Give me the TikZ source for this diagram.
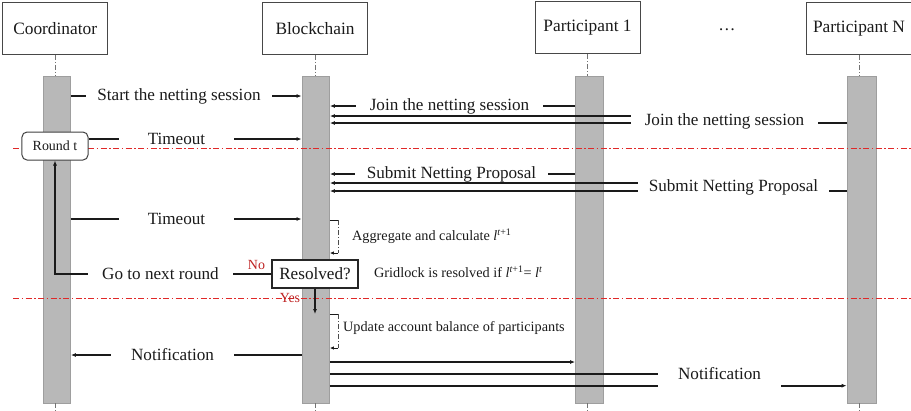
\documentclass[tikz,border=0pt]{standalone}
\usepackage{fontspec}
\setmainfont{Liberation Serif}
\usetikzlibrary{arrows.meta}
\definecolor{barfill}{HTML}{B8B8B8}
\definecolor{barline}{HTML}{9E9E9E}
\definecolor{sepred}{HTML}{E02828}
\definecolor{ink}{HTML}{1A1A1A}

\tikzset{
  head/.style={draw=black!72, line width=1bp, fill=white, minimum width=105bp,
    minimum height=52bp, inner sep=0pt, font=\fontsize{17.4}{20}\selectfont, text=ink},
  lifebar/.style={draw=barline, fill=barfill, line width=0.8bp, minimum width=27.5bp,
    minimum height=327bp, inner sep=0pt},
  stub/.style={draw=black!55, line width=0.8bp, dash pattern=on 5bp off 2bp on 1bp off 2bp},
  msg/.style={inner sep=0pt, font=\fontsize{17.2}{20}\selectfont, text=ink, minimum height=18bp},
  note/.style={inner sep=0pt, font=\fontsize{14.3}{17}\selectfont, text=ink, anchor=west},
  wire/.style={draw=ink, line width=1.3bp},
  fat/.style={draw=ink, line width=1.7bp},
  tip/.style={-{Latex[length=5bp,width=4bp]}},
  smalltip/.style={-{Latex[length=4bp,width=3.5bp]}},
  sep/.style={draw=sepred, line width=0.9bp, dash pattern=on 6bp off 2.5bp on 1.5bp off 2.5bp},
  loopline/.style={draw=ink, line width=0.9bp},
  loopdash/.style={draw=black!70, line width=0.8bp, dash pattern=on 5bp off 2bp on 1bp off 2bp},
  redtag/.style={text=sepred!85!black, font=\fontsize{14}{16}\selectfont, inner sep=0pt},
  boxq/.style={draw=black!85, fill=white, line width=1.1bp, inner sep=0pt},
}

\begin{document}
\begin{tikzpicture}[x=1bp, y=-1bp]
\useasboundingbox (0,0) rectangle (911,410);

% participants
\node[head] (hc)  at (55.2,28.3)  {\raisebox{-1.5bp}{Coordinator}};
\node[head] (hb)  at (315,28.3)   {\raisebox{-1.5bp}{Blockchain}};
\node[head] (hp1) at (587.5,27.5) {Participant 1};
\node[head] (hpn) at (859,28.5)   {Participant N};
\node[msg] (dots) at (727,30) {…};

% activation bars
\node[lifebar] (cc)  at (56.75,239.5) {};
\node[lifebar] (cb)  at (315.75,239.5) {};
\node[lifebar] (cp1) at (589.25,239.5) {};
\node[lifebar, minimum width=29.5bp] (cpn) at (861.75,239.5) {};

% lifeline stubs
\foreach \h/\b in {hc/cc, hb/cb, hp1/cp1, hpn/cpn} {
  \draw[stub] (\h.south) -- (\h.south |- \b.north);
  \draw[stub] (\h.south |- \b.south) -- ++(0,8);
}

% round separators
\coordinate (sepA) at (13,148);
\coordinate (sepB) at (13,298);
\draw[sep] (sepA) -- (911,148);
\draw[sep] (sepB) -- (911,298);

% round marker
\node[draw=black!75, fill=white, line width=1bp, rounded corners=5bp, minimum width=66bp,
  minimum height=28bp, inner sep=0pt, font=\fontsize{14}{16}\selectfont, text=ink] (rt) at (55,146) {Round t};

% start of session
\node[msg, minimum width=186bp] (m1) at (179,96) {Start the netting session};
\draw[wire] (cc.east |- m1) -- (m1.west);
\draw[wire, tip] (m1.east) -- (cb.west |- m1);

% participants join
\node[msg, minimum width=187bp] (m2) at (449.5,106) {Join the netting session};
\draw[wire] (cp1.west |- m2) -- (m2.east);
\draw[wire, tip] (m2.west) -- (cb.east |- m2);

\node[msg, minimum width=187bp] (m3) at (724.5,121) {Join the netting session};
\coordinate (j3a) at ([yshift=5bp]m3.west);
\coordinate (j3b) at ([yshift=-2bp]m3.west);
\draw[fat, tip] (j3a) -- (cb.east |- j3a);
\draw[fat, tip] (j3b) -- (cb.east |- j3b);
\draw[wire] (cpn.west |- j3b) -- (m3.east |- j3b);

% first timeout
\node[msg, minimum width=115bp] (t1) at (176.5,139) {Timeout};
\draw[wire] (rt.east |- t1) -- (t1.west);
\draw[wire, tip] (t1.east) -- (cb.west |- t1);

% proposals
\node[msg, minimum width=193bp] (s1) at (451.5,174) {Submit Netting Proposal};
\draw[wire] (cp1.west |- s1) -- (s1.east);
\draw[wire, tip] (s1.west) -- (cb.east |- s1);

\node[msg, minimum width=191bp] (s2) at (733.5,187) {Submit Netting Proposal};
\coordinate (s2a) at ([yshift=4bp]s2.west);
\coordinate (s2b) at ([yshift=-4bp]s2.west);
\draw[fat, tip] (s2a) -- (cb.east |- s2a);
\draw[fat, tip] (s2b) -- (cb.east |- s2b);
\draw[wire] (cpn.west |- s2b) -- (s2.east |- s2b);

% second timeout
\node[msg, minimum width=115bp] (t2) at (176.5,219) {Timeout};
\draw[wire] (cc.east |- t2) -- (t2.west);
\draw[wire, tip] (t2.east) -- (cb.west |- t2);

% aggregation
\coordinate (l1top) at (338,220);
\coordinate (l1bot) at (338,253);
\draw[loopline] (cb.east |- l1top) -- (l1top);
\draw[loopdash] (l1top) -- (l1bot);
\draw[loopline, smalltip] (l1bot) -- (cb.east |- l1bot);
\node[note] (agg) at (352,236) {Aggregate and calculate \textit{l}\textsuperscript{\textit{t}+1}};

% decision
\node[boxq, minimum width=86bp, minimum height=28bp, font=\fontsize{17.2}{20}\selectfont, text=ink] (res) at (315,274) {Resolved?};
\node[note] (grid) at (374,272) {Gridlock is resolved if \textit{l}\textsuperscript{\textit{t}+1}= \textit{l}\textsuperscript{\textit{t}}};
\node[redtag] (no)  at (256.5,265) {No};
\node[redtag] (yes) at (290,298)   {Yes};

\node[msg, minimum width=145bp] (gn) at (160.5,274) {Go to next round};
\draw[wire] (res.west) -- (gn.east);
\draw[wire, tip] (gn.west) -| (rt.south);

% settlement
\coordinate (l2top) at (338,314);
\coordinate (l2bot) at (338,348);
\draw[wire, tip] (res.south) -- (res.south |- l2top);
\draw[loopline] (cb.east |- l2top) -- (l2top);
\draw[loopdash] (l2top) -- (l2bot);
\draw[loopline, smalltip] (l2bot) -- (cb.east |- l2bot);
\node[note] (upd) at (343,328) {Update account balance of participants};

% notifications
\node[msg, minimum width=123bp] (n1) at (172.5,355) {Notification};
\draw[wire] (cb.west |- n1) -- (n1.east);
\draw[wire, tip] (n1.west) -- (cc.east |- n1);

\coordinate (n2) at (450,362);
\draw[wire, tip] (cb.east |- n2) -- (cp1.west |- n2);

\node[msg, minimum width=123bp] (n3) at (719.5,374) {Notification};
\coordinate (n3b) at ([yshift=-11.7bp]n3.west);
\draw[fat] (cb.east |- n3) -- (n3.west);
\draw[fat] (cb.east |- n3b) -- (n3b);
\draw[fat, tip] (n3.east |- n3b) -- (cpn.west |- n3b);
\end{tikzpicture}
\end{document}
